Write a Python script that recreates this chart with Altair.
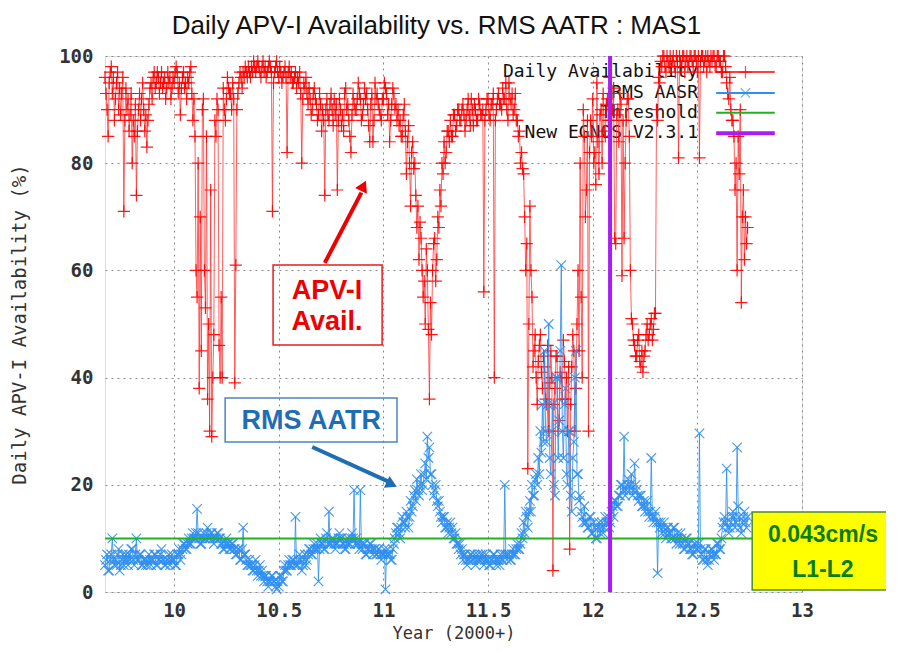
import altair as alt
import pandas as pd

# ---------------- data ----------------
YEAR_START = 9.67    # first sample (year - 2000)
YEAR_STEP = 0.005    # sampling step of the readings

AVAIL = [
    96, 93, 90, 85, 95, 97, 98, 93, 96, 88, 92, 95, 97, 90, 94, 89, 93, 96, 71, 88,      # 9.67
    94, 90, 92, 86, 89, 93, 80, 88, 85, 91, 74, 86, 90, 93, 88, 92, 95, 90, 86, 89,      # 9.77
    83, 88, 91, 94, 95, 92, 96, 97, 94, 95, 97, 96, 93, 95, 97, 94, 95, 96, 92, 94,      # 9.87
    97, 95, 96, 92, 94, 96, 95, 97, 98, 97, 93, 95, 89, 94, 96, 97, 94, 95, 92, 96,      # 9.97
    95, 97, 98, 93, 88, 92, 85, 60, 55, 80, 38, 70, 45, 90, 92, 60, 53, 85, 36, 50,      # 10.07
    30, 75, 29, 40, 48, 88, 85, 92, 90, 46, 40, 55, 40, 94, 90, 88, 92, 96, 94, 93,      # 10.17
    93, 90, 95, 92, 39, 61, 90, 93, 95, 97, 96, 94, 97, 96, 98, 97, 96, 98, 97, 96,      # 10.27
    98, 97, 99, 98, 97, 98, 99, 98, 97, 96, 98, 99, 97, 98, 96, 97, 98, 99, 98, 97,      # 10.37
    71, 95, 97, 98, 99, 97, 96, 98, 97, 95, 96, 97, 98, 96, 82, 97, 98, 96, 97, 95,      # 10.47
    95, 96, 97, 94, 96, 95, 97, 93, 80, 92, 95, 94, 96, 93, 91, 94, 92, 89, 90, 93,      # 10.57
    94, 92, 91, 88, 89, 93, 91, 86, 90, 88, 74, 90, 92, 89, 88, 91, 93, 90, 87, 92,      # 10.67
    89, 91, 75, 88, 92, 90, 87, 89, 86, 93, 94, 90, 91, 88, 85, 82, 89, 93, 91, 90,      # 10.77
    90, 92, 95, 93, 92, 88, 89, 91, 94, 92, 93, 90, 87, 84, 91, 93, 84, 88, 95, 92,      # 10.87
    93, 91, 90, 89, 88, 92, 92, 95, 94, 93, 89, 91, 84, 88, 91, 94, 93, 90, 91, 88,      # 10.97
    90, 87, 88, 85, 85, 89, 91, 86, 78, 84, 87, 80, 72, 82, 84, 79, 80, 74, 68, 72,      # 11.07
    62, 69, 66, 60, 55, 58, 50, 64, 60, 49, 36, 54, 48, 60, 65, 66, 58, 62, 70, 68,      # 11.17
    75, 72, 80, 78, 84, 80, 82, 86, 86, 84, 88, 85, 85, 89, 89, 86, 87, 90, 90, 88,      # 11.27
    88, 90, 91, 89, 86, 88, 90, 92, 89, 87, 92, 90, 87, 91, 90, 88, 88, 92, 91, 89,      # 11.37
    89, 90, 56, 88, 90, 92, 92, 89, 88, 91, 91, 93, 40, 88, 90, 92, 93, 91, 91, 90,      # 11.47
    94, 92, 92, 95, 90, 88, 95, 92, 91, 93, 89, 90, 93, 88, 88, 85, 86, 80, 82, 79,      # 11.57
    78, 70, 60, 65, 23, 50, 72, 60, 55, 42, 45, 48, 40, 35, 43, 46, 48, 41, 38, 44,      # 11.67
    42, 36, 35, 46, 30, 39, 45, 40, 4, 35, 38, 44, 44, 30, 32, 41, 40, 36, 47, 43,       # 11.77
    36, 40, 30, 42, 8, 35, 42, 48, 45, 30, 38, 50, 60, 45, 80, 55, 40, 90, 85, 70,       # 11.87
    75, 88, 30, 82, 88, 85, 92, 80, 82, 76, 95, 84, 78, 89, 90, 80, 93, 86, 85, 91,      # 11.97
    92, 88, 96, 93, 88, 90, 94, 66, 65, 89, 90, 84, 93, 91, 59, 88, 66, 80, 88, 92,      # 12.07
    92, 85, 60, 51, 50, 47, 46, 44, 44, 47, 48, 43, 42, 45, 41, 44, 45, 48, 50, 47,      # 12.17
    48, 50, 51, 47, 49, 52, 52, 90, 88, 96, 95, 99, 98, 100, 100, 98, 97, 100, 99, 98,   # 12.27
    100, 98, 99, 100, 98, 97, 100, 99, 81, 100, 99, 98, 100, 100, 97, 99, 100, 98, 99, 100,  # 12.37
    100, 99, 98, 100, 100, 99, 97, 100, 81, 99, 100, 100, 98, 99, 100, 97, 100, 99, 98, 100, # 12.47
    99, 100, 100, 98, 98, 100, 100, 99, 99, 97, 97, 100, 100, 98, 95, 93, 92, 96, 90, 88,    # 12.57
    88, 85, 75, 80, 60, 85, 78, 90, 54, 70, 75, 62, 70, 65, 68,                              # 12.67
]

AATR = [
    5, 6, 7, 4, 4, 6, 7, 10, 6, 5, 6, 5, 7, 8, 4, 5, 6, 7, 5, 6,              # 9.67
    7, 6, 5, 7, 6, 8, 8, 6, 5, 7, 10, 6, 6, 7, 7, 5, 5, 6, 6, 5,              # 9.77
    6, 5, 7, 6, 5, 6, 6, 7, 7, 5, 5, 6, 6, 7, 8, 6, 6, 5, 5, 6,               # 9.87
    6, 7, 5, 6, 7, 6, 6, 5, 5, 7, 7, 8, 6, 7, 8, 9, 9, 8, 8, 9,               # 9.97
    10, 9, 9, 10, 11, 10, 10, 11, 15.5, 11, 10, 9, 9, 10, 11, 10, 10, 11, 12, 10,  # 10.07
    10, 11, 11, 10, 9, 10, 10, 11, 11, 10, 10, 9, 9, 8, 8, 9, 10, 9, 9, 8,    # 10.17
    8, 9, 9, 8, 8, 7, 7, 8, 8, 6, 6, 8, 12, 7, 7, 6, 5, 5, 6, 5,              # 10.27
    5, 4, 4, 5, 6, 4, 3, 4, 5, 3, 4, 3, 2, 3, 3, 2, 1, 2, 2, 3,               # 10.37
    3, 2, 2, 1, 0.5, 2, 1, 3, 3, 2, 2, 4, 5, 4, 4, 5, 6, 5, 5, 6,             # 10.47
    6, 5, 14, 5, 5, 6, 7, 6, 4, 5, 6, 7, 5, 6, 7, 8, 8, 7, 7, 8,              # 10.57
    9, 8, 8, 9, 2, 8, 10, 9, 9, 8, 8, 10, 11, 9, 15, 9, 9, 10, 10, 9,         # 10.67
    8, 9, 9, 10, 11, 10, 10, 9, 9, 8, 8, 9, 10, 9, 9, 10, 11, 10, 19, 9,      # 10.77
    10, 9, 9, 8, 19, 9, 8, 9, 9, 7, 7, 8, 8, 9, 9, 8, 7, 8, 8, 7,             # 10.87
    7, 8, 8, 7, 6, 7, 7, 8, 0.5, 7, 8, 7, 7, 6, 6, 8, 9, 10, 11, 12,          # 10.97
    12, 11, 10, 12, 14, 13, 13, 12, 15, 14, 12, 14, 17, 15, 16, 18, 19, 17, 21, 19,   # 11.07
    18, 20, 22, 19, 20, 22, 24, 21, 29, 25, 27, 22, 22, 20, 18, 19, 20, 17, 16, 17,   # 11.17
    15, 14, 13, 14, 14, 12, 12, 13, 11, 12, 13, 11, 12, 10, 10, 11, 9, 9, 8, 9,       # 11.27
    7, 8, 6, 7, 7, 6, 5, 6, 6, 7, 7, 6, 6, 7, 5, 6, 7, 6, 6, 7,               # 11.37
    6, 7, 5, 6, 7, 6, 6, 5, 5, 6, 6, 7, 7, 6, 5, 6, 6, 5, 7, 6,               # 11.47
    6, 7, 20, 7, 6, 7, 7, 6, 6, 7, 8, 7, 7, 8, 9, 8, 8, 9, 11, 10,            # 11.57
    13, 11, 15, 14, 12, 15, 17, 15, 20, 18, 18, 21, 22, 20, 25, 22, 30, 26, 35, 28,   # 11.67
    45, 30, 28, 35, 50, 25, 22, 30, 35, 20, 18, 40, 40, 25, 32, 45, 61, 30, 25, 35,   # 11.77
    38, 22, 20, 30, 30, 18, 15, 25, 28, 40, 45, 22, 22, 17, 18, 15, 14, 13, 16, 13,   # 11.87
    13, 12, 12, 14, 14, 11, 11, 13, 12, 10, 10, 12, 13, 11, 12, 13, 11, 12, 14, 13,   # 11.97
    13, 14, 12, 13, 15, 16, 14, 17, 17, 16, 16, 18, 18, 20, 20, 19, 29, 18, 19, 20,   # 12.07
    21, 19, 20, 22, 18, 19, 24, 20, 19, 18, 17, 18, 18, 16, 16, 17, 15, 16, 17, 15,   # 12.17
    14, 15, 25, 14, 13, 14, 15, 13, 3.5, 13, 12, 13, 11, 12, 13, 11, 10, 12, 12, 11,  # 12.27
    11, 10, 10, 12, 12, 10, 9, 11, 10, 9, 11, 10, 9, 8, 8, 10, 10, 9, 9, 8,   # 12.37
    8, 7, 7, 9, 9, 8, 8, 9, 29.6, 8, 7, 6, 6, 8, 8, 6, 5, 6, 7, 8,            # 12.47
    8, 7, 6, 7, 7, 9, 9, 8, 8, 10, 12, 13, 14, 13, 23, 12, 11, 12, 13, 14,    # 12.57
    15, 14, 12, 13, 27, 16, 14, 12, 11, 13, 14, 15, 13, 12, 14,               # 12.67
]

THRESHOLD = 10
EGNOS_V231 = 12.083
X_DOMAIN = [9.67, 13]
Y_DOMAIN = [0, 100]
X_TICKS = [10, 10.5, 11, 11.5, 12, 12.5, 13]
Y_TICKS = [0, 20, 40, 60, 80, 100]
LEGEND_LABELS = ["Daily Availability", "RMS AASR", "Threshold", "New EGNOS V2.3.1"]
TITLE = "Daily APV-I  Availability vs. RMS AATR : MAS1"

assert len(AVAIL) == len(AATR) == 615, (len(AVAIL), len(AATR))
years = [round(YEAR_START + i * YEAR_STEP, 3) for i in range(len(AVAIL))]
df = pd.DataFrame({"year": years, "avail": AVAIL, "aatr": AATR})

# ---------------- styling ----------------
RED = "#ff0000"
BLUE = "#2f8fef"
GREEN = "#1fb41f"
PURPLE = "#a81ef0"
MONO = "DejaVu Sans Mono"
SANS = "Liberation Sans"
PLUS = "M -1 0 L 1 0 M 0 -1 L 0 1"
XMARK = "M -1 -1 L 1 1 M -1 1 L 1 -1"

xs = alt.Scale(domain=X_DOMAIN, nice=False, zero=False)
ys = alt.Scale(domain=Y_DOMAIN, nice=False, zero=False)

x_axis = alt.Axis(values=X_TICKS, format="~g", grid=True, gridDash=[2, 4], gridColor="#8a8a8a",
                  gridWidth=1, ticks=False, domain=False, labelFlush=False, labelOverlap=False,
                  labelFont=MONO, labelFontSize=19, labelFontWeight="bold", labelColor="#333",
                  labelPadding=9, title="Year (2000+)", titleFont=MONO, titleFontSize=17,
                  titleFontWeight="normal", titleColor="#333", titleY=41, titleBaseline="middle")
y_axis = alt.Axis(values=Y_TICKS, format="d", grid=True, gridDash=[2, 4], gridColor="#8a8a8a",
                  gridWidth=1, ticks=False, domain=False, labelFlush=False, labelOverlap=False,
                  labelFont=MONO, labelFontSize=19, labelFontWeight="bold", labelColor="#333",
                  labelPadding=12, title="Daily APV-I Availability (%)", titleFont=MONO,
                  titleFontSize=19, titleFontWeight="normal", titleColor="#333", titleX=-86,
                  titleY=268, titleAngle=270, titleBaseline="middle", titleAlign="center")

# legend (drawn under the data, as in the reference)
leg = pd.DataFrame({
    "label": LEGEND_LABELS,
    "tx": [12.503] * 4,
    "x1": [12.59] * 4,
    "x2": [12.87] * 4,
    "y": [97.0, 93.1, 89.4, 85.6],
    "c": [RED, BLUE, GREEN, PURPLE],
    "w": [1.5, 2, 2, 4],
})

legend_text = alt.Chart(leg).mark_text(font=MONO, fontSize=18, fontWeight="normal", color="#111",
                                       align="right", baseline="middle").encode(
    x=alt.X("tx:Q", scale=xs, axis=x_axis),
    y=alt.Y("y:Q", scale=ys, axis=y_axis),
    text="label:N")

red_line = alt.Chart(df).mark_line(color="#ff2a2a", strokeWidth=1, opacity=0.75).encode(
    x=alt.X("year:Q", scale=xs), y=alt.Y("avail:Q", scale=ys))
red_pts = alt.Chart(df).mark_point(shape=PLUS, filled=False, color=RED, size=150,
                                   strokeWidth=1.2, opacity=0.9).encode(
    x=alt.X("year:Q", scale=xs), y=alt.Y("avail:Q", scale=ys))
blue_line = alt.Chart(df).mark_line(color=BLUE, strokeWidth=1, opacity=0.85).encode(
    x=alt.X("year:Q", scale=xs), y=alt.Y("aatr:Q", scale=ys))
blue_pts = alt.Chart(df).mark_point(shape=XMARK, filled=False, color=BLUE, size=90,
                                    strokeWidth=1.1, opacity=0.9).encode(
    x=alt.X("year:Q", scale=xs), y=alt.Y("aatr:Q", scale=ys))

thr = alt.Chart(pd.DataFrame({"v": [THRESHOLD]})).mark_rule(color=GREEN, strokeWidth=2).encode(
    y=alt.Y("v:Q", scale=ys))
egnos = alt.Chart(pd.DataFrame({"v": [EGNOS_V231]})).mark_rule(color=PURPLE, strokeWidth=4).encode(
    x=alt.X("v:Q", scale=xs))

legend_lines = alt.Chart(leg).mark_rule().encode(
    x=alt.X("x1:Q", scale=xs), x2="x2:Q", y=alt.Y("y:Q", scale=ys),
    color=alt.Color("c:N", scale=None), strokeWidth=alt.StrokeWidth("w:Q", scale=None))
leg_marks = pd.DataFrame({"x": [12.73, 12.73], "y": [97.0, 93.1]})
legend_plus = alt.Chart(leg_marks.iloc[[0]]).mark_point(shape=PLUS, filled=False, color=RED,
                                                        size=150, strokeWidth=1.3).encode(
    x=alt.X("x:Q", scale=xs), y=alt.Y("y:Q", scale=ys))
legend_x = alt.Chart(leg_marks.iloc[[1]]).mark_point(shape=XMARK, filled=False, color=BLUE,
                                                     size=90, strokeWidth=1.1).encode(
    x=alt.X("x:Q", scale=xs), y=alt.Y("y:Q", scale=ys))

# ---------------- annotations (data coordinates) ----------------
boxes = pd.DataFrame({
    "x1": [10.473, 10.244], "x2": [10.994, 11.065],
    "y1": [61.0, 36.2], "y2": [46.1, 28.0],
    "c": ["#e81c1c", "#4a86c0"],
})
box_marks = alt.Chart(boxes).mark_rect(fillOpacity=0, strokeWidth=1.5).encode(
    x=alt.X("x1:Q", scale=xs), x2="x2:Q", y=alt.Y("y1:Q", scale=ys), y2="y2:Q",
    stroke=alt.Stroke("c:N", scale=None))

ann_text = pd.DataFrame({
    "t": ["APV-I", "Avail.", "RMS AATR"],
    "x": [10.731, 10.731, 10.655],
    "y": [56.2, 50.3, 31.9],
    "c": ["#ee0000", "#ee0000", "#1e6eb4"],
})
ann = alt.Chart(ann_text).mark_text(font=SANS, fontWeight="bold", fontSize=27, align="center",
                                    baseline="middle").encode(
    x=alt.X("x:Q", scale=xs), y=alt.Y("y:Q", scale=ys), text="t:N",
    color=alt.Color("c:N", scale=None))

arrows = pd.DataFrame({
    "x1": [10.72, 10.66], "y1": [61.4, 27.05],
    "x2": [10.895, 11.03], "y2": [74.5, 20.5],
    "hx": [10.905, 11.04], "hy": [75.8, 20.1],
    "ang": [26, 116],
    "c": ["#ee0000", "#1e6eb4"],
})
arrow_lines = alt.Chart(arrows).mark_rule(strokeWidth=4).encode(
    x=alt.X("x1:Q", scale=xs), x2="x2:Q", y=alt.Y("y1:Q", scale=ys), y2="y2:Q",
    color=alt.Color("c:N", scale=None))
arrow_heads = alt.Chart(arrows).mark_point(shape="triangle-up", filled=True, size=170,
                                           opacity=1).encode(
    x=alt.X("hx:Q", scale=xs), y=alt.Y("hy:Q", scale=ys),
    angle=alt.Angle("ang:Q", scale=None), color=alt.Color("c:N", scale=None))

note = pd.DataFrame({"x1": [12.762], "x2": [13.5], "y1": [14.93], "y2": [0.37]})
note_box = alt.Chart(note).mark_rect(fill="#ffff00", stroke="#4e8a2a", strokeWidth=1.5,
                                     clip=False).encode(
    x=alt.X("x1:Q", scale=xs), x2="x2:Q", y=alt.Y("y1:Q", scale=ys), y2="y2:Q")
note_text = pd.DataFrame({"t": ["0.043cm/s", "L1-L2"], "x": [13.10, 13.10], "y": [10.6, 4.1]})
note_marks = alt.Chart(note_text).mark_text(font=SANS, fontWeight="bold", fontSize=23,
                                            color="#0b7d0b", align="center", baseline="middle",
                                            clip=False).encode(
    x=alt.X("x:Q", scale=xs), y=alt.Y("y:Q", scale=ys), text="t:N")

chart = alt.layer(
    legend_text, red_line, red_pts, blue_line, blue_pts, thr, egnos,
    legend_lines, legend_plus, legend_x,
    box_marks, ann, arrow_lines, arrow_heads, note_box, note_marks,
).properties(
    width=697, height=536,
    title=alt.Title(TITLE, font=SANS, fontSize=26, fontWeight="normal", color="#111",
                    anchor="middle", dx=-17, offset=8),
    autosize=alt.AutoSizeParams(type="none"),
    padding={"left": 97, "top": 48, "right": 84, "bottom": 50},
).configure_view(stroke="#222", strokeWidth=1.2).configure(background="white")

chart.save("out.html", embed_options={"renderer": "svg", "actions": False})
